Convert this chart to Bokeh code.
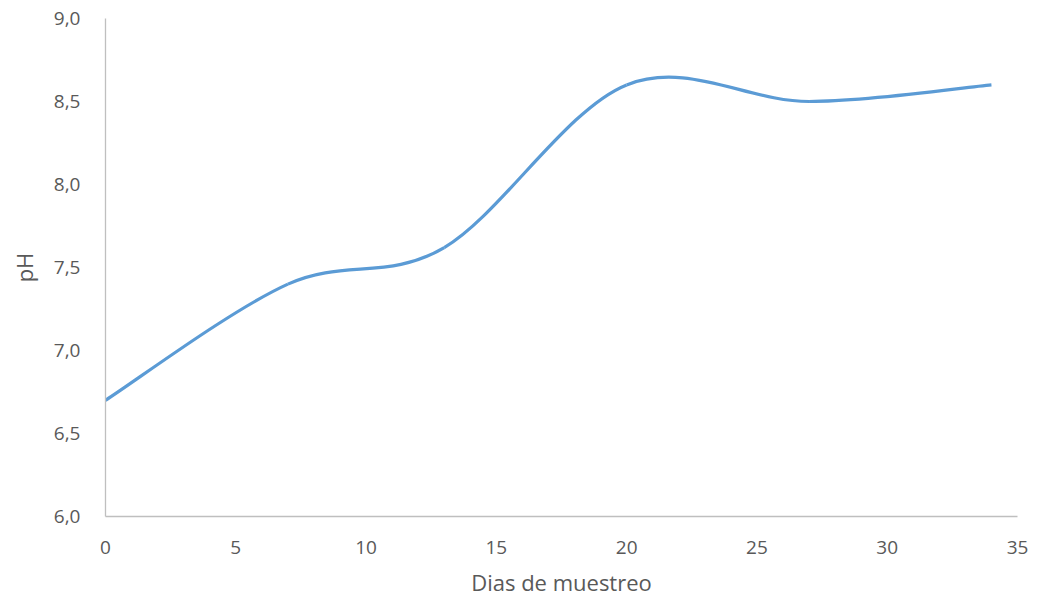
from bokeh.plotting import figure
from bokeh.models import FixedTicker, CustomJSTickFormatter, Range1d
from bokeh.embed import file_html
from bokeh.resources import INLINE

# Data (sampling days, pH)
dias = [0, 7, 13, 20, 27, 34]
ph = [6.7, 7.4, 7.62, 8.6, 8.5, 8.6]
x_ticks = [0, 5, 10, 15, 20, 25, 30, 35]
y_ticks = [6.0, 6.5, 7.0, 7.5, 8.0, 8.5, 9.0]

# Excel-style smoothed line: cubic Bezier segments with Catmull-Rom control points
n = len(dias)
x0, y0, x1, y1, cx0, cy0, cx1, cy1 = [], [], [], [], [], [], [], []
for i in range(n - 1):
    pm = i - 1 if i > 0 else i
    pp = i + 2 if i + 2 < n else i + 1
    x0.append(dias[i]); y0.append(ph[i])
    x1.append(dias[i + 1]); y1.append(ph[i + 1])
    cx0.append(dias[i] + (dias[i + 1] - dias[pm]) / 6)
    cy0.append(ph[i] + (ph[i + 1] - ph[pm]) / 6)
    cx1.append(dias[i + 1] - (dias[pp] - dias[i]) / 6)
    cy1.append(ph[i + 1] - (ph[pp] - ph[i]) / 6)

p = figure(width=1059, height=600, output_backend="svg", toolbar_location=None,
           x_range=Range1d(0, 35), y_range=Range1d(6, 9))
p.min_border_left = 105
p.min_border_right = 42
p.min_border_top = 18
p.min_border_bottom = 84
p.outline_line_color = None
p.xgrid.grid_line_color = None
p.ygrid.grid_line_color = None
p.background_fill_color = "white"
p.border_fill_color = "white"

p.bezier(x0=x0, y0=y0, x1=x1, y1=y1, cx0=cx0, cy0=cy0, cx1=cx1, cy1=cy1,
         line_color="#5b9bd5", line_width=3.2)

fmt = CustomJSTickFormatter(code="return tick.toFixed(1).replace('.', ',');")
for ax in (p.xaxis[0], p.yaxis[0]):
    ax.axis_line_color = "#bfbfbf"
    ax.axis_line_width = 1.3
    ax.major_tick_line_color = None
    ax.minor_tick_line_color = None
    ax.major_label_text_color = "#595959"
    ax.major_label_text_font = "Open Sans"
    ax.major_label_text_font_size = "19px"
    ax.axis_label_text_color = "#595959"
    ax.axis_label_text_font = "Open Sans"
    ax.axis_label_text_font_size = "22px"
    ax.axis_label_text_font_style = "normal"

p.xaxis.ticker = FixedTicker(ticks=x_ticks)
p.yaxis.ticker = FixedTicker(ticks=y_ticks)
p.yaxis.formatter = fmt
p.xaxis.axis_label = "Dias de muestreo"
p.yaxis.axis_label = "pH"
p.xaxis.major_label_standoff = 18
p.yaxis.major_label_standoff = 19
p.xaxis.axis_label_standoff = 10
p.yaxis.axis_label_standoff = 12

open("out.html", "w").write(file_html(p, INLINE))
